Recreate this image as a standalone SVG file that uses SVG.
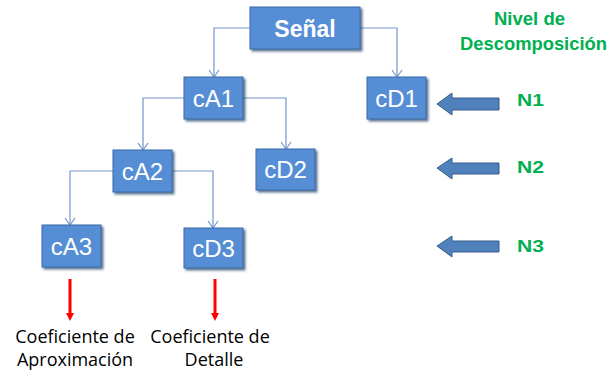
<svg xmlns="http://www.w3.org/2000/svg" width="613" height="372" viewBox="0 0 613 372">
  <style>
    .box { fill: #558ED5; stroke: #3B6AA8; stroke-width: 1; filter: url(#shadow); }
    .lbl { font-family: "Liberation Sans", Arial, sans-serif; font-size: 24px; fill: #FFFFFF; text-anchor: middle; }
    .conn { fill: none; stroke: #7396CC; stroke-width: 1.2; marker-end: url(#vhead); }
    .lvl { font-family: "Liberation Sans", Arial, sans-serif; font-weight: bold; fill: #00B050; }
    .cap { font-family: "Open Sans", "Liberation Sans", sans-serif; font-size: 18px; fill: #000000; text-anchor: middle; }
    .blk { fill: #4F81BD; stroke: #385D8A; stroke-width: 1; }
    .red { fill: #FF0000; }
  </style>
  <defs>
    <filter id="shadow" x="-20%" y="-20%" width="150%" height="160%">
      <feDropShadow dx="2" dy="2" stdDeviation="1.2" flood-color="#1F3C64" flood-opacity="0.7"/>
    </filter>
    <marker id="vhead" markerWidth="12" markerHeight="12" refX="10" refY="6" orient="auto" markerUnits="userSpaceOnUse" viewBox="0 0 12 12">
      <path d="M3,1 L10,6 L3,11" fill="none" stroke="#7396CC" stroke-width="1.2"/>
    </marker>
  </defs>

  <!-- tree connectors -->
  <g id="connectors">
    <path class="conn" d="M250,28 H214 V77"/>
    <path class="conn" d="M360,28 H397 V77"/>
    <path class="conn" d="M184,98 H143 V150"/>
    <path class="conn" d="M243,98 H286 V149"/>
    <path class="conn" d="M113,171 H70 V225"/>
    <path class="conn" d="M172,171 H213 V228"/>
  </g>

  <!-- coefficient boxes -->
  <g id="senal">
    <rect class="box" x="250" y="7" width="110" height="42"/>
    <text class="lbl" x="305" y="37" style="font-weight:bold;font-size:23px">Señal</text>
  </g>
  <g id="cA1">
    <rect class="box" x="184" y="77" width="59" height="42"/>
    <text class="lbl" x="213.5" y="107">cA1</text>
  </g>
  <g id="cD1">
    <rect class="box" x="367" y="77" width="59" height="42"/>
    <text class="lbl" x="396.5" y="107">cD1</text>
  </g>
  <g id="cA2">
    <rect class="box" x="113" y="150" width="59" height="42"/>
    <text class="lbl" x="142.5" y="180">cA2</text>
  </g>
  <g id="cD2">
    <rect class="box" x="256" y="149" width="59" height="41"/>
    <text class="lbl" x="285.5" y="178">cD2</text>
  </g>
  <g id="cA3">
    <rect class="box" x="42" y="225" width="59" height="42"/>
    <text class="lbl" x="71.5" y="255">cA3</text>
  </g>
  <g id="cD3">
    <rect class="box" x="184" y="228" width="59" height="40"/>
    <text class="lbl" x="213.5" y="257">cD3</text>
  </g>

  <!-- output arrows and captions -->
  <g id="approx-out">
    <path class="red" d="M68.5,279 H71.5 V313 H74 L70,321 L66,313 H68.5 Z"/>
    <text class="cap" x="75" y="343">Coeficiente de</text>
    <text class="cap" x="75" y="366">Aproximación</text>
  </g>
  <g id="detail-out">
    <path class="red" d="M213.5,279 H216.5 V313 H219 L215,321 L211,313 H213.5 Z"/>
    <text class="cap" x="210" y="343">Coeficiente de</text>
    <text class="cap" x="214" y="366">Detalle</text>
  </g>

  <!-- decomposition level legend -->
  <g id="level-title">
    <text class="lvl" x="494" y="25" font-size="18" textLength="71" lengthAdjust="spacingAndGlyphs">Nivel de</text>
    <text class="lvl" x="460" y="50" font-size="18" textLength="147" lengthAdjust="spacingAndGlyphs">Descomposición</text>
  </g>
  <g id="level-n1">
    <path class="blk" d="M437,104 L452,93 V98 H499 V110 H452 V115 Z"/>
    <text class="lvl" x="517" y="106" font-size="17" textLength="27" lengthAdjust="spacingAndGlyphs">N1</text>
  </g>
  <g id="level-n2">
    <path class="blk" d="M437,168 L452,158 V163 H499 V174 H452 V179 Z"/>
    <text class="lvl" x="517" y="173" font-size="17" textLength="27" lengthAdjust="spacingAndGlyphs">N2</text>
  </g>
  <g id="level-n3">
    <path class="blk" d="M437,246 L452,236 V241 H499 V252 H452 V257 Z"/>
    <text class="lvl" x="517" y="252" font-size="17" textLength="27" lengthAdjust="spacingAndGlyphs">N3</text>
  </g>
</svg>
